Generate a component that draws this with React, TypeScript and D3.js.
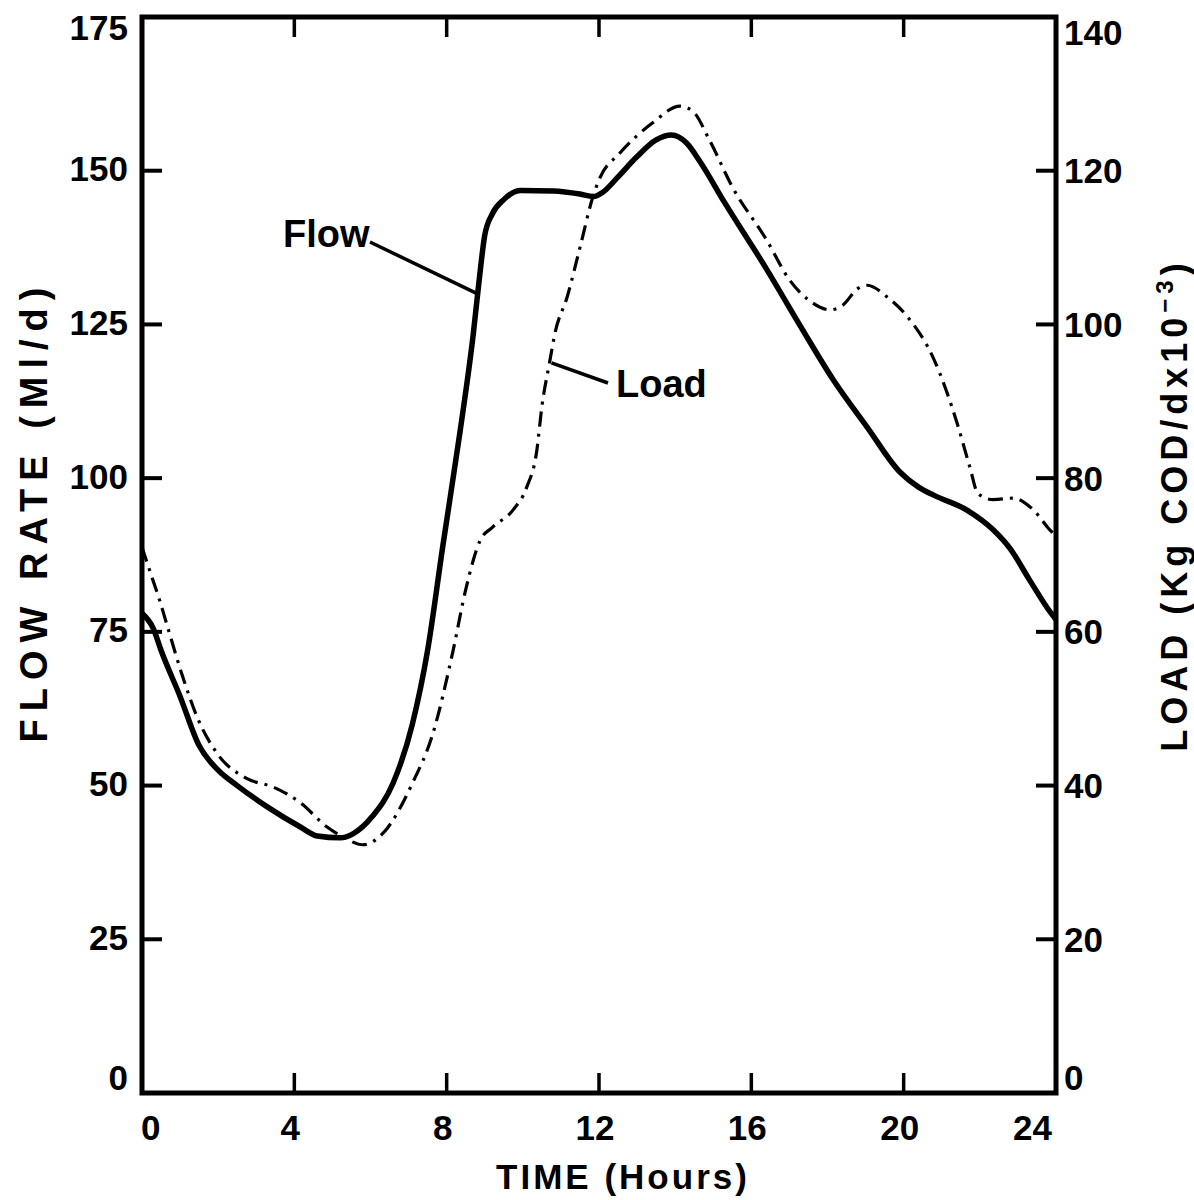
import React from "react";
import * as d3 from "d3";

const hoursTicks = [0, 4, 8, 12, 16, 20, 24];
const flowTicks = [0, 25, 50, 75, 100, 125, 150, 175];
const loadTicks = [0, 20, 40, 60, 80, 100, 120, 140];

const flowHours = [0, 0.3, 0.5, 1.0, 1.5, 2.0, 2.5, 3.3, 4.15, 4.6, 5.2, 5.55, 6.05, 6.6, 7.1, 7.5, 7.9, 8.35, 8.7, 8.85, 9.0, 9.2, 9.5, 9.93, 10.8, 11.5, 11.85, 12.1, 12.5, 13.0, 13.5, 13.9, 14.3, 14.65, 15.3, 16.4, 17.3, 18.15, 19.04, 19.9, 20.4, 20.8, 21.66, 22.35, 22.8, 23.3, 23.85, 24];
const flowValues = [78, 75.5, 72, 64.5, 56.5, 52.5, 50, 46.5, 43.3, 41.8, 41.5, 42.2, 45, 50.5, 60, 72, 89, 107.5, 123.5, 132, 139.5, 143, 145.3, 146.8, 146.7, 146.2, 145.8, 146.5, 149, 152.3, 155, 155.8, 154.5, 151.5, 144.8, 134, 124.6, 116, 108.3, 101, 98.5, 97.2, 94.8, 91.6, 88.5, 83.5, 78.2, 77];

const loadHours = [0, 0.2, 0.47, 0.65, 1.08, 1.44, 1.97, 2.76, 3.45, 4.15, 4.86, 5.28, 5.8, 6.33, 7.1, 7.64, 8.17, 8.5, 8.88, 9.2, 9.75, 10.1, 10.37, 10.5, 10.7, 10.85, 11.16, 11.5, 11.84, 12.0, 12.55, 13.4, 14.13, 14.47, 14.9, 15.5, 16.4, 17.0, 17.5, 18.07, 18.4, 18.8, 19.04, 19.56, 20.1, 20.8, 21.4, 21.74, 21.95, 22.35, 22.87, 23.4, 23.85, 24];
const loadValues = [71, 68, 64, 61, 54, 49, 44.2, 40.9, 39.8, 37.8, 34.6, 33.3, 32.3, 33.8, 40.3, 46.8, 57.6, 65.5, 71.9, 73.6, 75.9, 78.8, 83.7, 89.3, 95, 99, 103.5, 110, 116.6, 118.8, 122.3, 126.2, 128.4, 127.7, 124, 117.9, 111, 105.8, 103.2, 101.9, 102.5, 104.7, 105.1, 103.6, 101, 95.4, 87.2, 81.4, 78, 77.2, 77.4, 75.9, 73.2, 72.5];

const FONT = "'Liberation Sans', Arial, sans-serif";

export default function App() {
  const W = 1194, H = 1200;
  const left = 142, right = 1056, top = 17, bottom = 1093;
  const x = d3.scaleLinear().domain([0, 24]).range([left, right]);
  const yL = d3.scaleLinear().domain([0, 175]).range([bottom, top]);
  const yR = d3.scaleLinear().domain([0, 140]).range([bottom, top]);

  const flowLine = d3.line<number>()
    .x((_, i) => x(flowHours[i]))
    .y((d) => yL(d))
    .curve(d3.curveMonotoneX);
  const loadLine = d3.line<number>()
    .x((_, i) => x(loadHours[i]))
    .y((d) => yR(d))
    .curve(d3.curveMonotoneX);

  const innerHours = hoursTicks.filter((t) => t > 0 && t < 24);
  const tickLen = 20;

  return (
    <svg width={W} height={H} style={{ position: "absolute", left: 0, top: 0, background: "#fff" }} fontFamily={FONT} fontWeight="bold">
      <rect x={0} y={0} width={W} height={H} fill="#fff" />
      {/* data */}
      <path d={loadLine(loadValues) || ""} fill="none" stroke="#000" strokeWidth={3.2} strokeDasharray="15 7 3 7" />
      <path d={flowLine(flowValues) || ""} fill="none" stroke="#000" strokeWidth={5.5} strokeLinejoin="round" />

      {/* frame */}
      <rect x={left} y={top} width={right - left} height={bottom - top} fill="none" stroke="#000" strokeWidth={5} />

      {/* left ticks */}
      {flowTicks.filter((t) => t > 0 && t < 175).map((t) => (
        <line key={"lt" + t} x1={left} x2={left + tickLen} y1={yL(t)} y2={yL(t)} stroke="#000" strokeWidth={4} />
      ))}
      {/* right ticks */}
      {loadTicks.filter((t) => t > 0 && t < 140).map((t) => (
        <line key={"rt" + t} x1={right} x2={right - tickLen} y1={yR(t)} y2={yR(t)} stroke="#000" strokeWidth={4} />
      ))}
      {/* bottom & top ticks */}
      {innerHours.map((t) => (
        <g key={"bt" + t}>
          <line x1={x(t)} x2={x(t)} y1={bottom} y2={bottom - tickLen} stroke="#000" strokeWidth={3.5} />
          <line x1={x(t)} x2={x(t)} y1={top} y2={top + tickLen} stroke="#000" strokeWidth={3.5} />
        </g>
      ))}

      {/* left tick labels */}
      {flowTicks.map((t) => (
        <text key={"ll" + t} x={128} y={yL(t) + (t === 175 ? 10 : t === 0 ? -16 : -2)} dy="0.36em" textAnchor="end" fontSize={35}>{t}</text>
      ))}
      {/* right tick labels */}
      {loadTicks.map((t) => (
        <text key={"rl" + t} x={1064} y={yR(t) + (t === 140 ? 15 : t === 0 ? -16 : 0)} dy="0.36em" textAnchor="start" fontSize={35}>{t}</text>
      ))}
      {/* bottom tick labels */}
      {hoursTicks.map((t) => (
        <text key={"bl" + t} x={t === 0 ? x(t) - 1 : t === 24 ? x(t) - 4 : x(t) - 4} y={1140}
          textAnchor={t === 0 ? "start" : t === 24 ? "end" : "middle"} fontSize={35}>{t}</text>
      ))}

      {/* axis titles */}
      <text x={623} y={1189} textAnchor="middle" fontSize={35} letterSpacing={3}>TIME (Hours)</text>
      <text transform={`translate(47, 511) rotate(-90)`} textAnchor="middle" fontSize={38} letterSpacing={8}>FLOW RATE (Ml/d)</text>
      <text transform={`translate(1187, 505) rotate(-90)`} textAnchor="middle" fontSize={36} letterSpacing={5}>
        LOAD (Kg COD/dx10<tspan dy={-14} fontSize={24}>−3</tspan><tspan dy={14}>)</tspan>
      </text>

      {/* annotations */}
      <text x={283} y={247} fontSize={38}>Flow</text>
      <line x1={370} y1={242} x2={x(8.8)} y2={yL(130)} stroke="#000" strokeWidth={3.5} />
      <text x={616} y={397} fontSize={38}>Load</text>
      <line x1={x(10.7) + 2} y1={yR(95)} x2={608} y2={383} stroke="#000" strokeWidth={3.5} />
    </svg>
  );
}
